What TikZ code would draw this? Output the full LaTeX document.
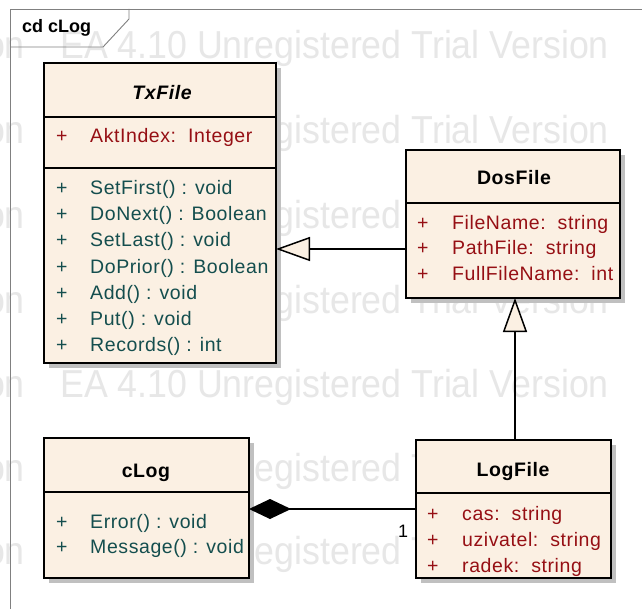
\documentclass[tikz,border=0pt]{standalone}
\usepackage{fontspec}
\setmainfont{Liberation Sans}
\newfontfamily\umlfont[LetterSpace=3]{Liberation Sans}
\newfontfamily\wmfont{Liberation Sans}
\usetikzlibrary{arrows.meta,shadows}
\definecolor{boxfill}{RGB}{251,240,227}
\definecolor{attrc}{RGB}{150,15,20}
\definecolor{opc}{RGB}{20,78,78}
\definecolor{wmc}{RGB}{231,231,231}
\definecolor{framec}{RGB}{128,128,128}
\definecolor{shadowc}{RGB}{192,192,192}
\begin{document}
\begin{tikzpicture}[x=1pt,y=-1pt,
  umlbox/.style={draw=black, line width=1.6pt, fill=boxfill, rectangle, anchor=north west,
    inner sep=0pt, outer sep=0pt,
    drop shadow={shadow xshift=5pt, shadow yshift=-5pt, fill=shadowc, opacity=1}},
  sepline/.style={draw=black, line width=1.3pt},
  txt/.style={anchor=base west, inner sep=0pt, font=\umlfont\fontsize{19.5}{23}\selectfont},
  attr/.style={txt, text=attrc},
  oper/.style={txt, text=opc},
  ttl/.style={anchor=base, inner sep=0pt, font=\umlfont\fontsize{19.5}{23}\selectfont\bfseries},
  wm/.style={inner sep=0pt, text=wmc, xscale=0.916, font=\wmfont\fontsize{39}{44}\selectfont},
  genline/.style={draw=black, line width=1.5pt, -{Triangle[length=34pt,width=24pt,fill=boxfill]}},
  compline/.style={draw=black, line width=1.5pt, {Diamond[length=42pt,width=20pt,fill=black]}-}
]
\useasboundingbox (0,0) rectangle (642,609);
\fill[white] (0,0) rectangle (642,609);

% watermark
\begin{scope}
\clip (0,0) rectangle (642,609);
\foreach \yy in {59,144,229,314,397,481,564}{
  \node[wm, anchor=base west] (wma\yy) at (60,\yy) {EA 4.10 Unregistered Trial Version};
  \node[wm, anchor=base east] (wmb\yy) at (25,\yy) {Trial Version};
}
\end{scope}

% frame
\draw[framec, line width=0.9pt] (10,609) -- (10,9) -- (642,9);
\draw[framec, line width=0.9pt] (10,47) -- (103,47) -- (129,19) -- (129,9);
\node[anchor=base west, inner sep=0pt, font=\fontsize{18}{22}\selectfont\bfseries] (frametitle) at (22,33) {cd cLog};

% TxFile
\node[umlbox, minimum width=232pt, minimum height=300pt] (tx) at (44,63) {};
\draw[sepline] ([yshift=-54pt]tx.north west) -- ([yshift=-54pt]tx.north east);
\draw[sepline] ([yshift=-105pt]tx.north west) -- ([yshift=-105pt]tx.north east);
\node[ttl, font=\umlfont\fontsize{19.5}{23}\selectfont\bfseries\itshape] (txt) at (162,100) {TxFile};
\node[attr] (txa1p) at (56,143) {+};
\node[attr] (txa1) at (90,143) {AktIndex:\ \ Integer};
\foreach \yy/\tt [count=\i] in {195/{SetFirst() : void},221/{DoNext() : Boolean},247/{SetLast() : void},274/{DoPrior() : Boolean},300/{Add() : void},326/{Put() : void},352/{Records() : int}}{
  \node[oper] (txop\i p) at (56,\yy) {+};
  \node[oper] (txop\i) at (90,\yy) {\tt};
}

% DosFile
\node[umlbox, minimum width=214pt, minimum height=148pt] (dos) at (406,150) {};
\draw[sepline] ([yshift=-53pt]dos.north west) -- ([yshift=-53pt]dos.north east);
\node[ttl] (dost) at (514,185) {DosFile};
\begin{scope}
\clip (406,150) rectangle (619,298);
\node[attr] (dosa1p) at (417,230) {+};
\node[attr] (dosa1) at (452,230) {FileName:\ \ string};
\node[attr] (dosa2p) at (417,255) {+};
\node[attr] (dosa2) at (452,255) {PathFile:\ \ string};
\node[attr] (dosa3p) at (417,281) {+};
\node[attr] (dosa3) at (452,281) {FullFileName:\ \ int};
\end{scope}

% cLog
\node[umlbox, minimum width=205pt, minimum height=140pt] (clog) at (44,438) {};
\draw[sepline] ([yshift=-54pt]clog.north west) -- ([yshift=-54pt]clog.north east);
\node[ttl] (clogt) at (146,477) {cLog};
\node[oper] (clogo1p) at (56,528) {+};
\node[oper] (clogo1) at (90,528) {Error() : void};
\node[oper] (clogo2p) at (56,553) {+};
\node[oper] (clogo2) at (90,553) {Message() : void};

% LogFile
\node[umlbox, minimum width=195pt, minimum height=138pt] (log) at (416,440) {};
\draw[sepline] ([yshift=-53pt]log.north west) -- ([yshift=-53pt]log.north east);
\node[ttl] (logt) at (513,476) {LogFile};
\node[attr] (loga1p) at (427,520) {+};
\node[attr] (loga1) at (462,520) {cas:\ \ string};
\node[attr] (loga2p) at (427,546) {+};
\node[attr] (loga2) at (462,546) {uzivatel:\ \ string};
\node[attr] (loga3p) at (427,572) {+};
\node[attr] (loga3) at (462,572) {radek:\ \ string};

% connectors
\draw[genline] ([yshift=-25pt]dos.west) -- ([yshift=-25pt]dos.west -| tx.east);
\draw[genline] ([xshift=1.5pt]log.north) -- ([xshift=1.5pt]log.north |- dos.south);
\draw[compline] ([yshift=-1pt]clog.east) -- ([yshift=-1pt]clog.east -| log.west);
\node[anchor=base, inner sep=0pt, font=\fontsize{18}{22}\selectfont] (mult) at ([xshift=-13pt,yshift=-28pt]log.west) {1};
\end{tikzpicture}
\end{document}
